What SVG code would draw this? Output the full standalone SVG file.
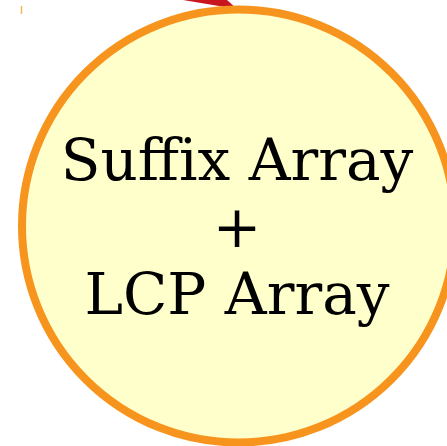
<svg xmlns="http://www.w3.org/2000/svg" width="447" height="446" viewBox="0 0 447 446">
<style>
.lbl{font-family:"DejaVu Serif",serif;font-size:58px;fill:#000;text-anchor:middle}
</style>
<rect width="447" height="446" fill="#fff"/>
<g id="connectors">
<line x1="21.5" y1="6" x2="21.5" y2="14" stroke="#f7941d" stroke-width="1.5" opacity="0.7"/>
<polygon points="183,0 227,0 237,9" fill="#c8151e"/>
</g>
<g id="node-sa">
<circle cx="238.5" cy="226" r="216.5" fill="#ffffcc" stroke="#f7941d" stroke-width="8"/>
<text class="lbl" x="237" y="180">Suffix Array</text>
<text class="lbl" x="237" y="247">+</text>
<text class="lbl" x="237" y="314">LCP Array</text>
</g>
</svg>
